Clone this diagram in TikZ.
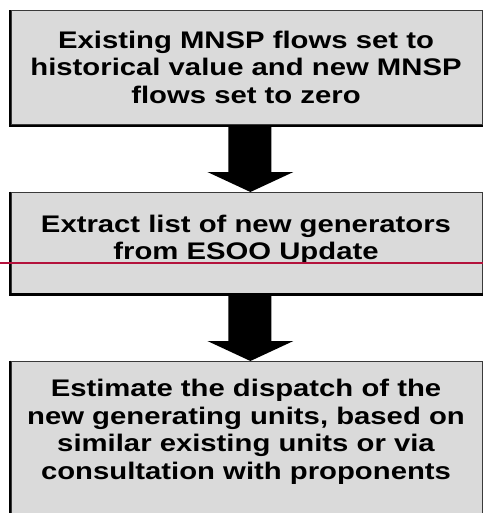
\documentclass[tikz,border=0pt]{standalone}
\usepackage{fontspec}
\setmainfont{Liberation Sans}[FakeStretch=1.22]
\usetikzlibrary{calc}
\definecolor{boxfill}{HTML}{DADADA}
\definecolor{boxedge}{HTML}{3A3A3A}
\definecolor{rule}{HTML}{B4123C}
\tikzset{
  stagebox/.style={draw=boxedge, line width=0.8pt, fill=boxfill, minimum width=471.5pt,
    anchor=north west, inner sep=0pt},
  shadowedge/.style={line width=2.2pt, black},
  stagetext/.style={font=\bfseries\fontsize{24}{27.5}\selectfont, align=center, inner sep=0pt},
  flowarrow/.style={fill=black}
}
\begin{document}
\begin{tikzpicture}[x=1pt,y=-1pt]
\useasboundingbox (0,0) rectangle (483,513);
% the three stages
\node[stagebox, minimum height=114pt] (b1) at (10.5,10.5) {};
\node[stagebox, minimum height=101pt] (b2) at (10.5,192) {};
\node[stagebox, minimum height=170pt] (b3) at (10.5,361) {};
\foreach \b in {b1,b2,b3}
  \draw[shadowedge] ($(\b.north west)+(-0.6pt,0.4pt)$) -- ($(\b.south west)+(-0.6pt,-0.6pt)$) -- ($(\b.south east)+(0,-0.6pt)$);
% texts
\node[stagetext] (t1) at (246,67) {Existing MNSP flows set to\\historical value and new MNSP\\flows set to zero};
\node[stagetext] (t2) at (246,240) {Extract list of new generators\\from ESOO Update};
\node[stagetext] (t3) at (246,432) {Estimate the dispatch of the\\new generating units, based on\\similar existing units or via\\consultation with proponents};
% block arrows between stages
\foreach \a/\b in {b1/b2,b2/b3}
  \fill[flowarrow] let \p1=(\a.south), \p2=(\b.north) in
    (\x1-18.25pt,\y1) -- (\x1+24.75pt,\y1) -- (\x1+24.75pt,\y2+20pt) -- (\x1+46.75pt,\y2+20pt)
    -- (\x1+3.75pt,\y2) -- (\x1-39.25pt,\y2+20pt) -- (\x1-18.25pt,\y2+20pt) -- cycle;
% horizontal rule across the middle box
\coordinate (r0) at (0,263);
\coordinate (r1) at (483,263);
\draw[rule, line width=1.8pt] (r0) -- (r1);
\end{tikzpicture}
\end{document}
